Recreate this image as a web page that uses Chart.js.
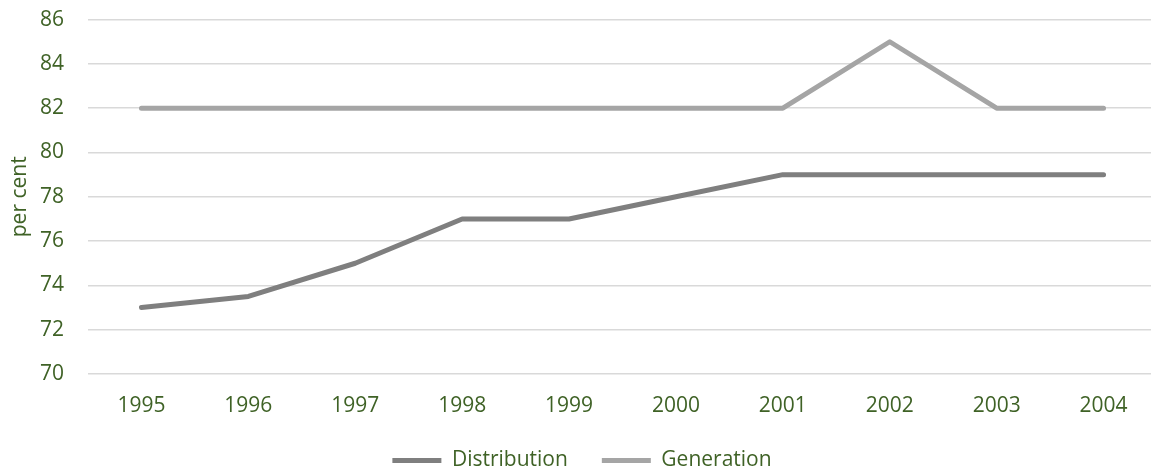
<!DOCTYPE html>
<html>
<head>
<meta charset="utf-8">
<script src="https://cdn.jsdelivr.net/npm/chart.js@4.4.1/dist/chart.umd.min.js"></script>
<style>
  html, body { margin: 0; padding: 0; background: #ffffff; overflow: hidden; }
  #wrap { width: 1151px; height: 471px; overflow: hidden; }
  #wrap canvas { display: block; margin-top: -17px; }
</style>
</head>
<body>
<div id="wrap"><canvas id="chart" width="1158" height="498"></canvas></div>
<script>
// Share of capacity, per cent
const years = ['1995', '1996', '1997', '1998', '1999', '2000', '2001', '2002', '2003', '2004'];
const distribution = [73, 73.5, 75, 77, 77, 78, 79, 79, 79, 79];
const generation = [82, 82, 82, 82, 82, 82, 82, 85, 82, 82];
const yTicks = [70, 72, 74, 76, 78, 80, 82, 84, 86];

const textColor = '#3f6226';
const fontFamily = '"Open Sans", "Liberation Sans", sans-serif';

new Chart(document.getElementById('chart'), {
  type: 'line',
  data: {
    labels: years,
    datasets: [
      {
        label: 'Distribution',
        data: distribution,
        borderColor: '#7f7f7f',
        backgroundColor: '#7f7f7f',
        borderWidth: 5,
        pointRadius: 0,
        borderCapStyle: 'round',
        borderJoinStyle: 'round',
        tension: 0
      },
      {
        label: 'Generation',
        data: generation,
        borderColor: '#a5a5a5',
        backgroundColor: '#a5a5a5',
        borderWidth: 5,
        pointRadius: 0,
        borderCapStyle: 'round',
        borderJoinStyle: 'round',
        tension: 0
      }
    ]
  },
  options: {
    responsive: false,
    animation: false,
    layout: { autoPadding: false, padding: { top: 19, right: 1, left: 7, bottom: 0 } },
    plugins: {
      tooltip: { enabled: false },
      legend: {
        position: 'bottom',
        labels: {
          color: textColor,
          font: { family: fontFamily, size: 21 },
          boxWidth: 49,
          boxHeight: 5,
          padding: 34,
          useBorderRadius: true,
          borderRadius: 2.5,
          generateLabels(chart) {
            return chart.data.datasets.map((ds, i) => ({
              text: ds.label,
              fillStyle: ds.borderColor,
              strokeStyle: ds.borderColor,
              lineWidth: 0,
              fontColor: textColor,
              datasetIndex: i,
              hidden: false
            }));
          }
        }
      }
    },
    scales: {
      x: {
        offset: true,
        grid: { display: false, drawTicks: false },
        border: { display: false },
        ticks: {
          color: textColor,
          font: { family: fontFamily, size: 21 },
          padding: 19,
          maxRotation: 0
        },
        afterFit(scale) { scale.height = 42; }
      },
      y: {
        min: 70,
        max: 86,
        afterBuildTicks(axis) {
          axis.ticks = yTicks.map(v => ({ value: v }));
        },
        grid: { color: '#d9d9d9', lineWidth: 1.5, drawTicks: false },
        border: { display: false },
        ticks: {
          color: textColor,
          font: { family: fontFamily, size: 21 },
          padding: 24
        },
        title: {
          display: true,
          text: 'per cent',
          color: textColor,
          font: { family: fontFamily, size: 21 },
          padding: { top: 0, bottom: 0 }
        },
        afterFit(scale) { scale.width = 81; }
      }
    }
  }
});
</script>
</body>
</html>
